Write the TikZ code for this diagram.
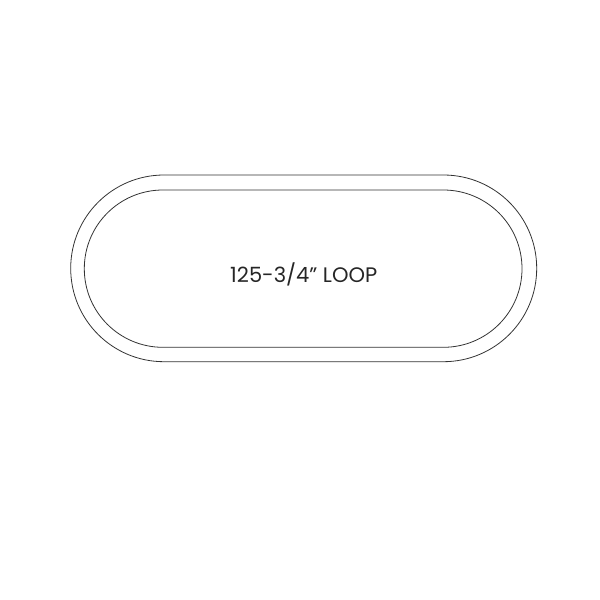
\documentclass[tikz,border=0pt]{standalone}
\usepackage{fontspec}
\setmainfont{Poppins}
\usepackage{tikz}
\usetikzlibrary{calc}

\begin{document}
\begin{tikzpicture}[x=1pt,y=-1pt]
        \useasboundingbox (0,0) rectangle (600,600);
        \coordinate (oa) at (70.7,175);
        \coordinate (ob) at (536.7,361.7);
        \coordinate (ia) at (84.3,190);
        \coordinate (ib) at (522,347.3);
        \draw[black!80,line width=0.8pt,rounded corners=93.3pt] (oa) rectangle (ob);
        \draw[black!80,line width=0.8pt,rounded corners=78.6pt] (ia) rectangle (ib);
        \node[font=\fontsize{21}{25}\selectfont,color=black!85,anchor=base,inner sep=0pt] (loop) at (303.7,282.3) {125-3/4\symbol{34} LOOP};
    \end{tikzpicture}
\end{document}
